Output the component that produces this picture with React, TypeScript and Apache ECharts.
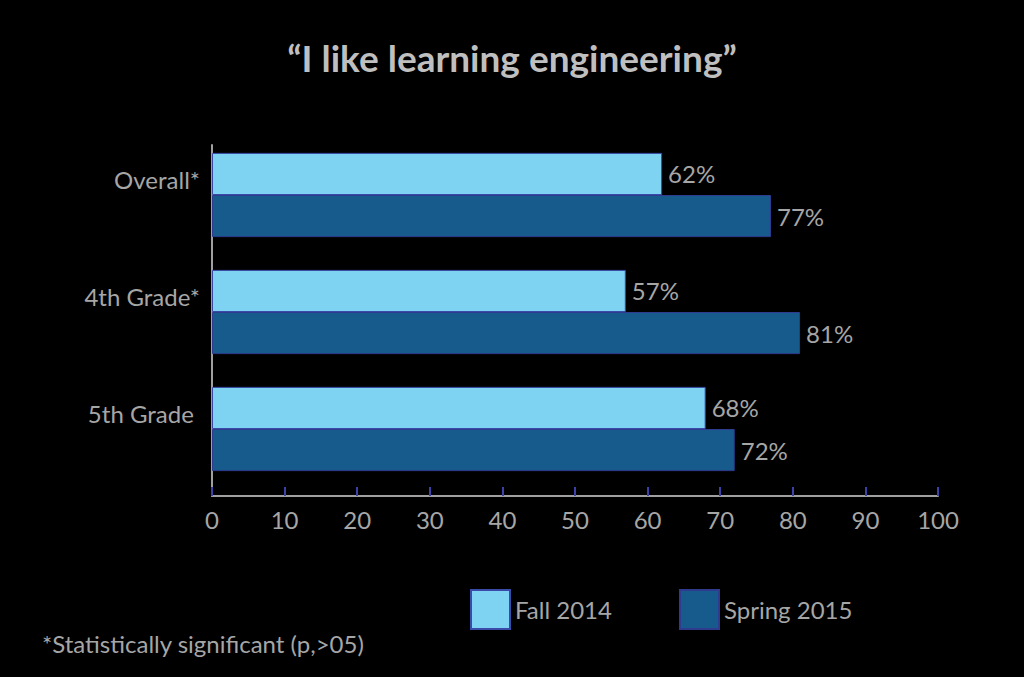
import React, { useEffect, useRef } from "react";
import * as echarts from "echarts";

const categories = ["Overall*", "4th Grade*", "5th Grade "];
const fall2014 = [62, 57, 68];
const spring2015 = [77, 81, 72];
const xTicks = [0, 100, 10];

const FONT = "Lato, 'Open Sans', sans-serif";
const GRAY = "#a6a6a6";
const FS = 24;

export default function App() {
  const ref = useRef<HTMLDivElement>(null);
  useEffect(() => {
    const chart = echarts.init(ref.current!, null, { renderer: "svg" });
    const label = {
      show: true,
      position: "right",
      distance: 6,
      color: GRAY,
      fontSize: FS,
      fontFamily: FONT,
      formatter: (p: any) => p.value + "%",
    };
    chart.setOption({
      animation: false,
      backgroundColor: "#000000",
      title: {
        text: "\u201cI like learning engineering\u201d",
        left: "center",
        top: 34,
        textStyle: { color: "#bfbfbf", fontSize: 37, fontWeight: "bold", fontFamily: FONT },
      },
      grid: [
        { left: 212, right: 86, top: 136.5, bottom: 189.5, containLabel: false },
        { left: 212, right: 86, top: 145, bottom: 181, containLabel: false },
      ],
      xAxis: [
        {
          type: "value",
          gridIndex: 0,
          min: xTicks[0],
          max: xTicks[1],
          interval: xTicks[2],
          show: false,
        },
        {
          type: "value",
          gridIndex: 1,
          min: xTicks[0],
          max: xTicks[1],
          interval: xTicks[2],
          axisLine: { show: true, lineStyle: { color: "#a0a0a0", width: 2 } },
          axisTick: { show: true, inside: true, length: 9, lineStyle: { color: "#3f3fa8", width: 2 } },
          axisLabel: { color: GRAY, fontSize: FS, fontFamily: FONT, margin: 11 },
          splitLine: { show: false },
        },
      ],
      yAxis: [
        {
          type: "category",
          gridIndex: 0,
          data: categories,
          inverse: true,
          axisLine: { show: false },
          axisTick: { show: false },
          axisLabel: {
            color: GRAY,
            fontSize: FS,
            fontFamily: FONT,
            margin: 12,
            verticalAlign: "bottom",
            lineHeight: 24,
            padding: [0, 0, 4, 0],
          },
        },
        {
          type: "category",
          gridIndex: 1,
          data: categories,
          inverse: true,
          axisLine: { show: true, lineStyle: { color: "#a0a0a0", width: 2 } },
          axisTick: { show: false },
          axisLabel: { show: false },
        },
      ],
      legend: [
        {
          data: [{ name: "Fall 2014", icon: "rect" }],
          left: 470,
          top: 589,
          padding: 0,
          itemWidth: 39,
          itemHeight: 39,
          itemGap: 0,
          textStyle: { color: GRAY, fontSize: FS, fontFamily: FONT },
        },
        {
          data: [{ name: "Spring 2015", icon: "rect" }],
          left: 679,
          top: 589,
          padding: 0,
          itemWidth: 39,
          itemHeight: 39,
          itemGap: 0,
          textStyle: { color: GRAY, fontSize: FS, fontFamily: FONT },
        },
      ],
      graphic: [
        {
          type: "text",
          left: 42,
          top: 631,
          style: {
            text: "*Statistically significant (p,>05)",
            fill: GRAY,
            fontSize: FS,
            fontFamily: FONT,
          },
        },
      ],
      series: [
        {
          name: "Fall 2014",
          type: "bar",
          xAxisIndex: 0,
          yAxisIndex: 0,
          data: fall2014,
          barGap: "0%",
          barCategoryGap: "28%",
          itemStyle: { color: "#7dd3f1", borderColor: "#3a4aa8", borderWidth: 1 },
          label,
        },
        {
          name: "Spring 2015",
          type: "bar",
          xAxisIndex: 0,
          yAxisIndex: 0,
          data: spring2015,
          barGap: "0%",
          barCategoryGap: "28%",
          itemStyle: { color: "#175a8c", borderColor: "#2e3b8f", borderWidth: 1 },
          label,
        },
      ],
    });
    return () => chart.dispose();
  }, []);
  return (
    <div
      ref={ref}
      style={{ position: "fixed", left: 0, top: 0, width: 1024, height: 677, background: "#000" }}
    />
  );
}
